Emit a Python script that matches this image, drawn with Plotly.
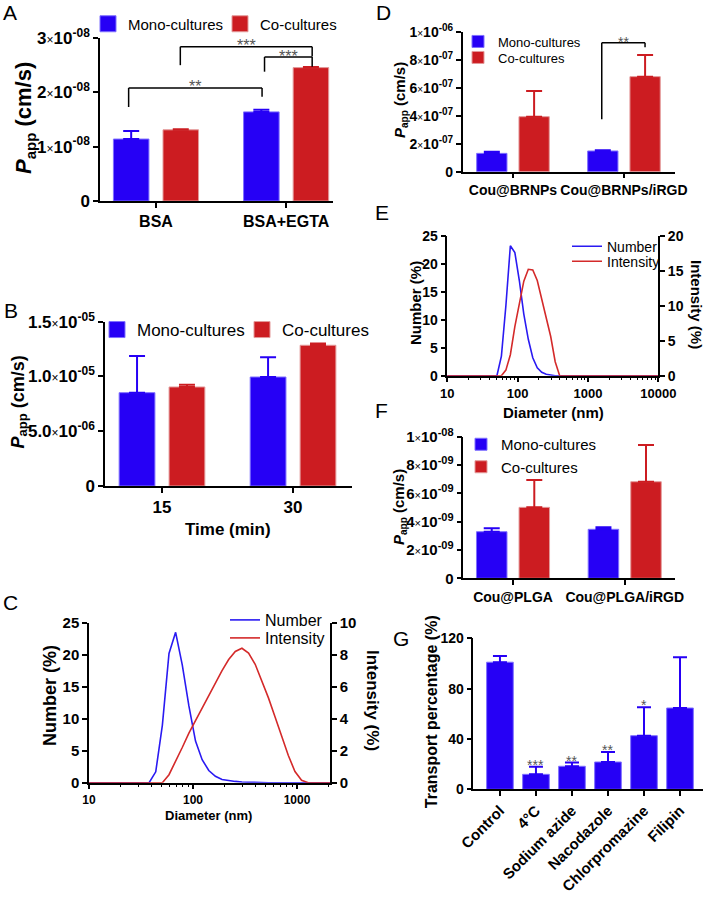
import plotly.graph_objects as go

W, H = 705, 897
FONT = "Arial, 'Liberation Sans', Helvetica, sans-serif"
BLUE = "#2600F5"
RED = "#CC1C21"
BLUE_EDGE = "#7F70FF"
RED_EDGE = "#E39A9A"
LINE_BLUE = "#2A1AF2"
LINE_RED = "#D42A2A"
STAR_GRAY = "#555555"

# ---------------- data ----------------
# Panel A
a_groups = ["BSA", "BSA+EGTA"]
a_mono = [1.14e-8, 1.64e-8]
a_mono_err = [0.15e-8, 0.04e-8]
a_co = [1.31e-8, 2.455e-8]
a_co_err = [0.01e-8, 0.01e-8]
a_tickvals = [0, 1e-8, 2e-8, 3e-8]
a_ticktext = ["0", "1×10^-08", "2×10^-08", "3×10^-08"]

# Panel B
b_groups = ["15", "30"]
b_mono = [0.852e-5, 0.995e-5]
b_mono_err = [0.335e-5, 0.18e-5]
b_co = [0.904e-5, 1.285e-5]
b_co_err = [0.02e-5, 0.015e-5]
b_tickvals = [0, 5e-6, 1e-5, 1.5e-5]
b_ticktext = ["0", "5.0×10^-06", "1.0×10^-05", "1.5×10^-05"]

# DLS size bins (nm)
dls_bins = [8.721, 10.10, 11.70, 13.54, 15.69, 18.17, 21.04, 24.36, 28.21, 32.67,
            37.84, 43.82, 50.75, 58.77, 68.06, 78.82, 91.28, 105.7, 122.4, 141.8,
            164.2, 190.1, 220.2, 255.0, 295.3, 342.0, 396.1, 458.7, 531.2, 615.1,
            712.4, 825.0, 955.4, 1106, 1281, 1484, 1718, 1990, 2305, 2669,
            3091, 3580, 4145, 4801, 5560, 6439, 7456, 8635, 10000]

# Panel C
c_number = [0, 0, 0, 0, 0, 0, 0, 0, 0, 0,
            0, 1.7, 9.0, 20.2, 23.5, 18.4, 12.0, 6.5, 3.6, 1.9,
            1.0, 0.5, 0.3, 0.2, 0.1, 0.05, 0, 0, 0, 0,
            0, 0, 0, 0, 0, 0, 0, 0, 0, 0,
            0, 0, 0, 0, 0, 0, 0, 0, 0]
c_intensity = [0, 0, 0, 0, 0, 0, 0, 0, 0, 0,
               0, 0, 0, 0.5, 1.3, 2.2, 3.1, 3.9, 4.7, 5.5,
               6.3, 7.0, 7.7, 8.2, 8.4, 8.1, 7.4, 6.4, 5.3, 4.1,
               2.9, 1.7, 0.7, 0.15, 0, 0, 0, 0, 0, 0,
               0, 0, 0, 0, 0, 0, 0, 0, 0]
c_xticks = [10, 100, 1000]
c_xminor = [20, 30, 40, 50, 60, 70, 80, 90, 200, 300, 400, 500, 600, 700, 800, 900, 2000]

# Panel D
d_groups = ["Cou@BRNPs", "Cou@BRNPs/iRGD"]
d_mono = [1.31e-7, 1.48e-7]
d_mono_err = [0.12e-7, 0.05e-7]
d_co = [3.93e-7, 6.79e-7]
d_co_err = [1.83e-7, 1.55e-7]
d_tickvals = [0, 2e-7, 4e-7, 6e-7, 8e-7, 1e-6]
d_ticktext = ["0", "2×10^-07", "4×10^-07", "6×10^-07", "8×10^-07", "1×10^-06"]

# Panel E
e_number = [0, 0, 0, 0, 0, 0, 0, 0, 0, 0,
            0, 0, 0, 3.5, 12.5, 23.2, 22.0, 17.0, 11.0, 6.5,
            3.2, 1.4, 0.6, 0.25, 0.08, 0, 0, 0, 0, 0,
            0, 0, 0, 0, 0, 0, 0, 0, 0, 0,
            0, 0, 0, 0, 0, 0, 0, 0, 0]
e_intensity = [0, 0, 0, 0, 0, 0, 0, 0, 0, 0,
               0, 0, 0, 0, 0.8, 3.0, 7.0, 10.5, 13.5, 15.2,
               15.1, 13.6, 11.0, 8.0, 5.6, 2.0, 0, 0, 0, 0,
               0, 0, 0, 0, 0, 0, 0, 0, 0, 0,
               0, 0, 0, 0, 0, 0, 0, 0, 0]
e_xticks = [10, 100, 1000, 10000]
e_xminor = [20, 30, 40, 50, 60, 70, 80, 90, 200, 300, 400, 500, 600, 700, 800, 900,
            2000, 3000, 4000, 5000, 6000, 7000, 8000, 9000]

# Panel F
f_groups = ["Cou@PLGA", "Cou@PLGA/iRGD"]
f_mono = [3.29e-9, 3.46e-9]
f_mono_err = [0.24e-9, 0.14e-9]
f_co = [5.01e-9, 6.82e-9]
f_co_err = [1.93e-9, 2.59e-9]
f_tickvals = [0, 2e-9, 4e-9, 6e-9, 8e-9, 1e-8]
f_ticktext = ["0", "2×10^-09", "4×10^-09", "6×10^-09", "8×10^-09", "1×10^-08"]

# Panel G
g_cats = ["Control", "4°C", "Sodium azide", "Nacodazole", "Chlorpromazine", "Filipin"]
g_vals = [101, 11.9, 18.3, 21.7, 42.6, 64.6]
g_err = [5, 6, 3, 8, 22.6, 40.3]
g_sig = ["", "***", "**", "**", "*", ""]

# ---------------- helpers ----------------
def fx(px):
    return px / W

def fy(py):
    return 1 - py / H

def fmt_ticks(lst, size):
    """'3×10^-08' -> rich text with a light multiplication sign and a superscript exponent"""
    out = []
    small = round(size * 0.72)
    for t in lst:
        if "×" not in t:
            out.append(t)
            continue
        mant, rest = t.split("×")
        base, exp = rest.split("^")
        out.append(f"{mant}<span style='font-weight:normal;font-size:{small}px'>×</span>{base}"
                   f"<sup><span style='font-size:{small}px'>{exp}</span></sup>")
    return out

def papp(size):
    sub = round(size * 0.7)
    return (f"<span style='font-style:italic;font-size:{size}px'>P</span>"
            f"<sub><span style='font-size:{sub}px'>app</span></sub> (cm/s)")

fig = go.Figure()

MONO_OFF, CO_OFF, BW = -0.327, 0.054, 0.273
SERIES = [("Mono-cultures", BLUE, BLUE_EDGE, MONO_OFF), ("Co-cultures", RED, RED_EDGE, CO_OFF)]

def add_group_bars(groups, mono, mono_err, co, co_err, xa, ya, legends, bar_legend):
    for (name, color, edge, off), vals, errs, lg in zip(SERIES, [mono, co], [mono_err, co_err], legends):
        fig.add_trace(go.Bar(
            x=groups, y=vals, offset=off, width=BW, name=name,
            marker=dict(color=color, line=dict(color=edge, width=1)),
            error_y=dict(type="data", array=errs, arrayminus=[0] * len(errs),
                         symmetric=False, color=color, thickness=2, width=8),
            xaxis=xa, yaxis=ya, showlegend=bar_legend, legend=lg))

def add_square_legend(xa, ya, legends):
    for (name, color, edge, off), lg in zip(SERIES, legends):
        fig.add_trace(go.Scatter(
            x=[None], y=[None], mode="markers", name=name,
            marker=dict(symbol="square", size=16, color=color, line=dict(color=edge, width=1)),
            xaxis=xa, yaxis=ya, legend=lg, showlegend=True))

# A
add_group_bars(a_groups, a_mono, a_mono_err, a_co, a_co_err, "x", "y", ["legend", "legend2"], False)
add_square_legend("x", "y", ["legend", "legend2"])
# B
add_group_bars(b_groups, b_mono, b_mono_err, b_co, b_co_err, "x2", "y2", ["legend3", "legend4"], False)
add_square_legend("x2", "y2", ["legend3", "legend4"])
# C
fig.add_trace(go.Scatter(x=dls_bins, y=c_number, mode="lines", name="Number",
                         line=dict(color=LINE_BLUE, width=1.6), xaxis="x3", yaxis="y3",
                         legend="legend5"))
fig.add_trace(go.Scatter(x=dls_bins, y=c_intensity, mode="lines", name="Intensity",
                         line=dict(color=LINE_RED, width=1.6), xaxis="x3", yaxis="y4",
                         legend="legend6"))
# D
add_group_bars(d_groups, d_mono, d_mono_err, d_co, d_co_err, "x4", "y5", ["legend7", "legend8"], True)
# E
fig.add_trace(go.Scatter(x=dls_bins, y=e_number, mode="lines", name="Number",
                         line=dict(color=LINE_BLUE, width=1.6), xaxis="x5", yaxis="y6",
                         legend="legend9"))
fig.add_trace(go.Scatter(x=dls_bins, y=e_intensity, mode="lines", name="Intensity",
                         line=dict(color=LINE_RED, width=1.6), xaxis="x5", yaxis="y7",
                         legend="legend10"))
# F
add_group_bars(f_groups, f_mono, f_mono_err, f_co, f_co_err, "x6", "y8", ["legend11", "legend12"], True)
# G
fig.add_trace(go.Bar(x=g_cats, y=g_vals, width=0.74, name="Transport",
                     marker=dict(color=BLUE, line=dict(color=BLUE_EDGE, width=1)),
                     error_y=dict(type="data", array=g_err, arrayminus=[0] * len(g_err),
                                  symmetric=False, color=BLUE, thickness=2, width=7),
                     xaxis="x7", yaxis="y9", showlegend=False))

# ---------------- axes ----------------
def ax(size, **kw):
    d = dict(showline=True, linecolor="black", linewidth=1.5, ticks="outside",
             ticklen=5, tickwidth=1.5, tickcolor="black", showgrid=False,
             zeroline=False, fixedrange=True, automargin=False,
             tickfont=dict(family=FONT, size=size, color="black", weight="bold"))
    d.update(kw)
    return d

def minor(vals):
    return dict(ticks="outside", ticklen=3, tickwidth=1, tickcolor="black",
                tickmode="array", tickvals=vals, showgrid=False)

layout_axes = dict(
    # A
    xaxis=ax(16, domain=[fx(100), fx(333)], anchor="y", type="category", range=[-0.43, 1.36],
             tickangle=0),
    yaxis=ax(17, domain=[fy(201), fy(38)], anchor="x", range=[0, 3e-8],
             tickmode="array", tickvals=a_tickvals, ticktext=fmt_ticks(a_ticktext, 17)),
    # B
    xaxis2=ax(17, domain=[fx(105), fx(352)], anchor="y2", type="category", range=[-0.435, 1.45],
              tickangle=0),
    yaxis2=ax(17, domain=[fy(486), fy(321.7)], anchor="x2", range=[0, 1.5e-5],
              tickmode="array", tickvals=b_tickvals, ticktext=fmt_ticks(b_ticktext, 17)),
    # C
    xaxis3=ax(12, domain=[fx(89), fx(330)], anchor="y3", type="log", range=[1, 3.317],
              tickmode="array", tickvals=c_xticks, ticktext=[str(v) for v in c_xticks],
              minor=minor(c_xminor), tickangle=0),
    yaxis3=ax(15, domain=[fy(782.7), fy(622.7)], anchor="x3", range=[0, 25], dtick=5),
    yaxis4=ax(15, domain=[fy(782.7), fy(622.7)], anchor="x3", overlaying="y3", side="right",
              range=[0, 10], dtick=2),
    # D
    xaxis4=ax(14, domain=[fx(462.7), fx(675)], anchor="y5", type="category", range=[-0.453, 1.46],
              tickangle=0),
    yaxis5=ax(14, domain=[fy(171.7), fy(31.7)], anchor="x4", range=[0, 1e-6],
              tickmode="array", tickvals=d_tickvals, ticktext=fmt_ticks(d_ticktext, 14)),
    # E
    xaxis5=ax(13, domain=[fx(447.3), fx(658.3)], anchor="y6", type="log", range=[1, 4],
              tickmode="array", tickvals=e_xticks, ticktext=[str(v) for v in e_xticks],
              minor=minor(e_xminor), tickangle=0),
    yaxis6=ax(14, domain=[fy(375.7), fy(235.7)], anchor="x5", range=[0, 25], dtick=5),
    yaxis7=ax(14, domain=[fy(375.7), fy(235.7)], anchor="x5", overlaying="y6", side="right",
              range=[0, 20], dtick=5),
    # F
    xaxis6=ax(14, domain=[fx(463.3), fx(675)], anchor="y8", type="category", range=[-0.445, 1.45],
              tickangle=0),
    yaxis8=ax(15, domain=[fy(578.3), fy(436.7)], anchor="x6", range=[0, 1e-8],
              tickmode="array", tickvals=f_tickvals, ticktext=fmt_ticks(f_ticktext, 15)),
    # G
    xaxis7=ax(15, domain=[fx(473.3), fx(702.7)], anchor="y9", type="category",
              range=[-0.74, 5.63], tickangle=-45),
    yaxis9=ax(14, domain=[fy(789.3), fy(638.3)], anchor="x7", range=[0, 120], dtick=40),
)

# ---------------- legends (one entry each, placed by symbol centre) ----------------
def leg(sym_x, y, size):
    return dict(x=fx(sym_x - 20), y=fy(y), xanchor="left", yanchor="middle", orientation="v",
                bgcolor="rgba(0,0,0,0)", borderwidth=0, itemwidth=30,
                font=dict(family=FONT, size=size, color="black"),
                itemclick=False, itemdoubleclick=False)

legends = dict(
    legend=leg(108, 24, 15), legend2=leg(240, 24, 15),
    legend3=leg(117, 330, 17), legend4=leg(262, 330, 17),
    legend5=leg(245, 620, 16), legend6=leg(245, 638, 16),
    legend7=leg(478, 41.5, 13), legend8=leg(478, 57.5, 13),
    legend9=leg(587, 246.7, 14), legend10=leg(587, 261.7, 14),
    legend11=leg(481, 444.5, 15), legend12=leg(481, 467, 15),
)

# ---------------- annotations ----------------
ann = []

def text(x, y, t, size, angle=0, bold=True, color="black"):
    ann.append(dict(x=fx(x), y=fy(y), xref="paper", yref="paper", text=t,
                    showarrow=False, textangle=angle, xanchor="center", yanchor="middle",
                    font=dict(family=FONT, size=size, color=color,
                              weight=("bold" if bold else "normal"))))

# panel labels
for lab, x, y in [("A", 10, 13), ("B", 11, 310), ("C", 10, 602), ("D", 383, 13),
                  ("E", 382, 212), ("F", 381, 411), ("G", 401, 638)]:
    text(x, y, lab, 21, bold=False)
# axis titles
text(25, 118, papp(22), 22, -90)
text(19, 402.5, papp(18), 18, -90)
text(228, 529, "Time (min)", 17)
text(50, 696, "Number (%)", 18, -90)
text(373, 700, "Intensity (%)", 17, 90)
text(208, 815, "Diameter (nm)", 13)
text(400, 100, papp(15), 15, -90)
text(415, 303, "Number (%)", 15, -90)
text(697, 304, "Intensity (%)", 15, 90)
text(553, 412, "Diameter (nm)", 15)
text(399.5, 507.5, papp(15), 15, -90)
text(431.5, 711.7, "Transport percentage (%)", 16, -90)

# significance brackets (data coordinates)
shapes = []

def bracket(xref, yref, x0, x1, y, y0_bottom, y1_bottom, stars, size):
    line = dict(color="black", width=1.5)
    shapes.append(dict(type="line", xref=xref, yref=yref, x0=x0, x1=x0, y0=y0_bottom, y1=y, line=line))
    shapes.append(dict(type="line", xref=xref, yref=yref, x0=x0, x1=x1, y0=y, y1=y, line=line))
    shapes.append(dict(type="line", xref=xref, yref=yref, x0=x1, x1=x1, y0=y1_bottom, y1=y, line=line))
    ann.append(dict(x=(x0 + x1) / 2, y=y, xref=xref, yref=yref, text=stars, showarrow=False,
                    xanchor="center", yanchor="middle", yshift=1,
                    font=dict(family=FONT, size=size, color=STAR_GRAY)))

bracket("x", "y", -0.21, 0.815, 2.08e-8, 1.73e-8, 1.92e-8, "**", 16)
bracket("x", "y", 0.187, 1.20, 2.84e-8, 2.50e-8, 2.66e-8, "***", 16)
bracket("x", "y", 0.834, 1.20, 2.65e-8, 2.38e-8, 2.47e-8, "***", 16)
bracket("x4", "y5", 0.80, 1.19, 0.921e-6, 0.374e-6, 0.889e-6, "**", 14)

# stars for panel G
for cat, v, e, s in zip(g_cats, g_vals, g_err, g_sig):
    if s:
        ann.append(dict(x=cat, y=v + e, xref="x7", yref="y9", text=s, showarrow=False,
                        xanchor="center", yanchor="middle", yshift=2,
                        font=dict(family=FONT, size=14, color=STAR_GRAY)))

fig.update_layout(
    width=W, height=H, margin=dict(l=0, r=0, t=0, b=0, pad=0, autoexpand=False),
    paper_bgcolor="white", plot_bgcolor="white",
    barmode="overlay", font=dict(family=FONT, color="black"),
    annotations=ann, shapes=shapes,
    **layout_axes, **legends,
)

fig.write_html("out.html", config={"displayModeBar": False},
               post_script="document.body.style.margin='0px';")
